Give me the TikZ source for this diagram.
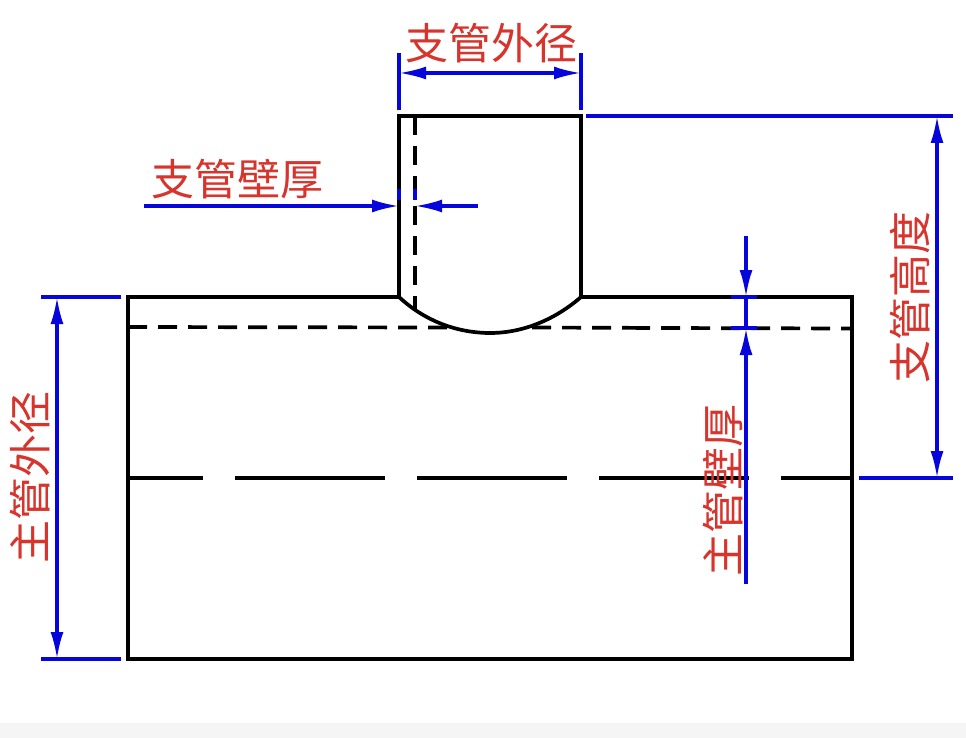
\documentclass[tikz,border=0pt]{standalone}
\usepackage{fontspec}
\newfontfamily\cjk{Noto Sans CJK SC}[Scale=1]
\usetikzlibrary{arrows.meta}
\definecolor{dimblue}{RGB}{5,5,220}
\definecolor{lab}{RGB}{214,52,44}
\tikzset{
 x=1pt,y=-1pt,
 body/.style={line width=3.7pt,black},
 hid/.style={line width=3.7pt,black,dash pattern=on 19pt off 11pt},
 centre/.style={line width=3.7pt,black,dash pattern=on 150pt off 32pt,dash phase=75pt},
 dim/.style={line width=3.1pt,dimblue},
 tip/.style={-{Latex[length=27pt,width=13pt]}},
 dtip/.style={{Latex[length=27pt,width=13pt]}-{Latex[length=27pt,width=13pt]}},
 labeltxt/.style={font=\cjk\fontsize{43}{43}\selectfont,text=lab,inner sep=0pt},
}
\begin{document}
\begin{tikzpicture}
\useasboundingbox (0,0) rectangle (966,738);
\fill[white] (0,0) rectangle (966,738);
\fill[black!4] (0,723) rectangle (966,738);
% named points
\coordinate (TL) at (128,297); \coordinate (TR) at (852,297);
\coordinate (BL) at (128,659); \coordinate (BR) at (852,659);
\coordinate (BJL) at (399,297); \coordinate (BJR) at (581,297);
\coordinate (BTL) at (399,116); \coordinate (BTR) at (581,116);
\coordinate (HT) at (415,116); \coordinate (HB) at (415,309);
\coordinate (IL) at (128,327); \coordinate (IA) at (450,327.5);
\coordinate (IB) at (532,327.5); \coordinate (IC) at (622,327.8);
\coordinate (ID) at (650,328); \coordinate (IE) at (661,328);
\coordinate (IR) at (852,328.5);
\coordinate (CL) at (128,478); \coordinate (CR) at (852,478);
% blue
\coordinate (a1) at (399,53); \coordinate (a2) at (399,110);
\coordinate (b1) at (581,53); \coordinate (b2) at (581,110);
\coordinate (w1) at (144,206); \coordinate (w2) at (399,206);
\coordinate (w3) at (478,206); \coordinate (w4) at (415,206);
\coordinate (h1) at (586,116); \coordinate (h2) at (953,116);
\coordinate (h3) at (859,478); \coordinate (h4) at (953,478);
\coordinate (hu) at (937,116); \coordinate (hd) at (937,478);
\coordinate (m1) at (746,236); \coordinate (m2) at (746,297);
\coordinate (m3) at (746,584); \coordinate (m4) at (746,328);
\coordinate (d1) at (41,297); \coordinate (d2) at (121,297);
\coordinate (d3) at (41,659); \coordinate (d4) at (121,659);
\coordinate (du) at (57,297); \coordinate (dd) at (57,659);
% body
\draw[body,line join=miter] (BJL) -- (TL) -- (BL) -- (BR) -- (TR) -- (BJR);
\draw[body] (BJL) -- (BTL) -- (BTR) -- (BJR);
\draw[body] (BJL) .. controls (428,324) and (462,333) .. (490,333) .. controls (525,333) and (557,318) .. (BJR);
\draw[hid] (HT) -- (HB);
\draw[hid] (IL) -- (IA);
\draw[hid] (IB) -- (IC);
\draw[body] (IC) -- (ID);
\draw[hid] (IE) -- (IR);
\draw[centre] (CL) -- (CR);
% dimension lines
\draw[dim] (a1) -- (a2); \draw[dim] (b1) -- (b2);
\draw[dim,dtip] (a1 |- 0,73) -- (b1 |- 0,73);
\draw[dim,tip] (w1) -- (w2);
\draw[dim,tip] (w3) -- (w4);
\draw[dim] (399,189) -- (399,200);
\draw[dim] (415,189) -- (415,200);
\draw[dim] (h1) -- (h2); \draw[dim] (h3) -- (h4);
\draw[dim,dtip] (hu) -- (hd);
\draw[dim,tip] (m1) -- (m2);
\draw[dim,tip] (m3) -- (m4);
\draw[dim] (m2) -- (m4);
\draw[dim] (731,297) -- (757,297);
\draw[dim] (731,328) -- (757,328);
\draw[dim] (d1) -- (d2); \draw[dim] (d3) -- (d4);
\draw[dim,dtip] (du) -- (dd);
% labels
\node[labeltxt] (t1) at (491.5,43) {支管外径};
\node[labeltxt] (t2) at (237,179) {支管壁厚};
\node[labeltxt,rotate=90] (t3) at (910,297) {支管高度};
\node[labeltxt,rotate=90] (t4) at (723,490) {主管壁厚};
\node[labeltxt,rotate=90] (t5) at (30,477) {主管外径};
\end{tikzpicture}
\end{document}
